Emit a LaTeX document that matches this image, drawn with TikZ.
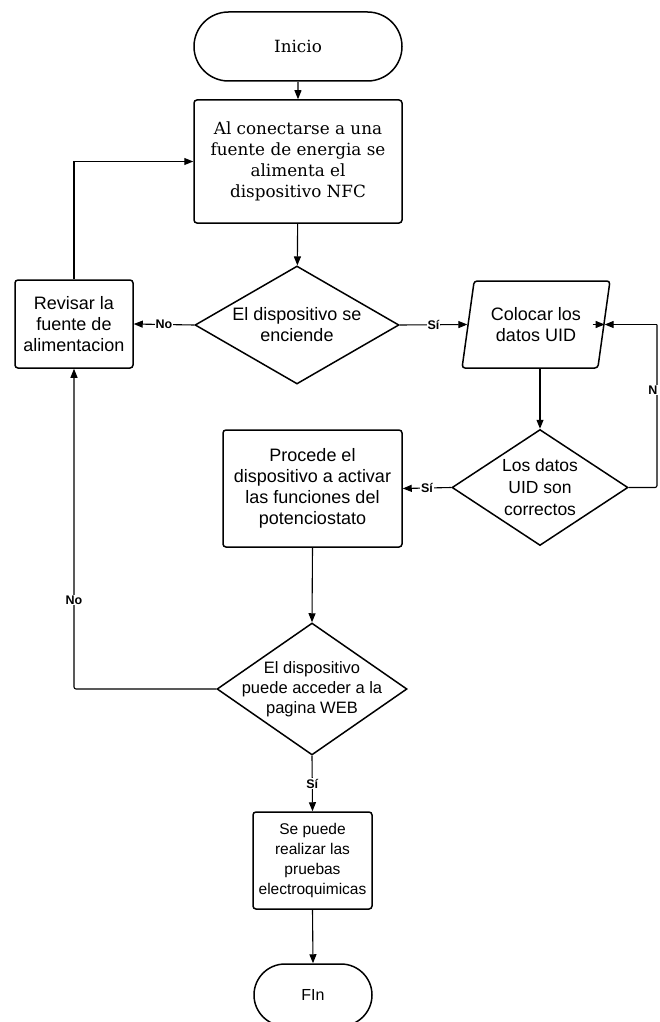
\documentclass[tikz,border=0pt]{standalone}
\usepackage{fontspec}
\setmainfont{Liberation Sans}
\newfontfamily\serifbox{DejaVu Serif}
\usetikzlibrary{shapes.geometric,shapes.misc,arrows.meta}
\begin{document}
\begin{tikzpicture}[x=1pt,y=-1pt,
  base/.style={draw, line width=1.5pt, align=center, inner sep=1pt, font=\fontsize{18}{21}\selectfont},
  terminal/.style={base, rounded rectangle},
  procbox/.style={base, rectangle, rounded corners=3pt},
  decision/.style={base, diamond, inner sep=0pt},
  dtext/.style={align=center, inner sep=0pt, font=\fontsize{18}{21}\selectfont},
  iobox/.style={base, trapezium, trapezium left angle=76, trapezium right angle=104, trapezium stretches=true, rounded corners=3pt},
  conn/.style={line width=1.1pt, -{Triangle[length=9pt,width=7pt]}},
  lab/.style={font=\bfseries\fontsize{12.5}{14}\selectfont, fill=white, inner sep=1pt}
]
\useasboundingbox (0,0) rectangle (659,1022);
\node[terminal, minimum width=210pt, minimum height=69pt, font=\serifbox\fontsize{16.8}{21}\selectfont] (inicio) at (298,46.5) {Inicio};
\node[procbox, minimum width=208pt, minimum height=123pt, font=\serifbox\fontsize{16.8}{21}\selectfont] (box1) at (298,161.5) {Al conectarse a una\\fuente de energia se\\alimenta el\\dispositivo NFC};
\node[decision, minimum width=204pt, minimum height=118pt] (d1) at (297,325) {};
\node[dtext] (d1t) at (d1.center) {El dispositivo se\\enciende};
\node[procbox, minimum width=118pt, minimum height=88pt] (revisar) at (74,324) {Revisar la\\fuente de\\alimentacion};
\node[iobox, minimum width=148pt, minimum height=87pt] (colocar) at (536,324.5) {Colocar los\\datos UID};
\node[decision, minimum width=176pt, minimum height=116pt] (d2) at (540,487.5) {};
\node[dtext, font=\fontsize{17.5}{22}\selectfont] (d2t) at (d2.center) {Los datos\\UID son\\correctos};
\node[procbox, minimum width=179pt, minimum height=117pt] (procede) at (312.5,488.5) {Procede el\\dispositivo a activar\\las funciones del\\potenciostato};
\node[decision, minimum width=190pt, minimum height=132pt] (d3) at (312,689) {};
\node[dtext, font=\fontsize{16.5}{20}\selectfont] (d3t) at (d3.center) {El dispositivo\\puede acceder a la\\pagina WEB};
\node[procbox, minimum width=119pt, minimum height=97pt, inner sep=0pt, font=\fontsize{15.5}{20}\selectfont] (sepuede) at (312.5,860.5) {Se puede\\realizar las\\pruebas\\electroquimicas};
\node[terminal, minimum width=120pt, minimum height=62pt, font=\fontsize{16}{20}\selectfont] (fin) at (313,995) {FIn};
\coordinate (rloop) at (657,487.5);
\coordinate (lloop) at (74,689);
\coordinate (stub) at ([xshift=-12pt]colocar.east);
\draw[conn] (inicio) -- (box1);
\draw[conn] (box1) -- (d1);
\draw[conn] (d1.west) -- node[lab]{No} (revisar.east);
\draw[conn] (d1.east) -- node[lab]{Sí} (colocar.west);
\draw[conn] (revisar.north) |- (box1.west);
\draw[conn] (d2.north |- colocar.south) -- (d2.north);
\draw[line width=1.1pt, rounded corners=2pt] (d2.east) -- (rloop) -- (rloop |- colocar.east);
\draw[conn] (rloop |- colocar.east) -- (colocar.east);
\draw[conn] (stub) -- (colocar.east);
\node[lab] (nlab) at (653,390) {N};
\draw[conn] (d2.west) -- node[lab]{Sí} (procede.east);
\draw[conn] (procede.south) -- (d3.north);
\draw[conn, rounded corners=2pt] (d3.west) -- (lloop) -- (revisar.south);
\node[lab] (nolab) at (74,600) {No};
\draw[conn] (d3.south) -- node[lab]{Sí} (sepuede.north);
\draw[conn] (sepuede.south) -- (fin.north);
\end{tikzpicture}
\end{document}
